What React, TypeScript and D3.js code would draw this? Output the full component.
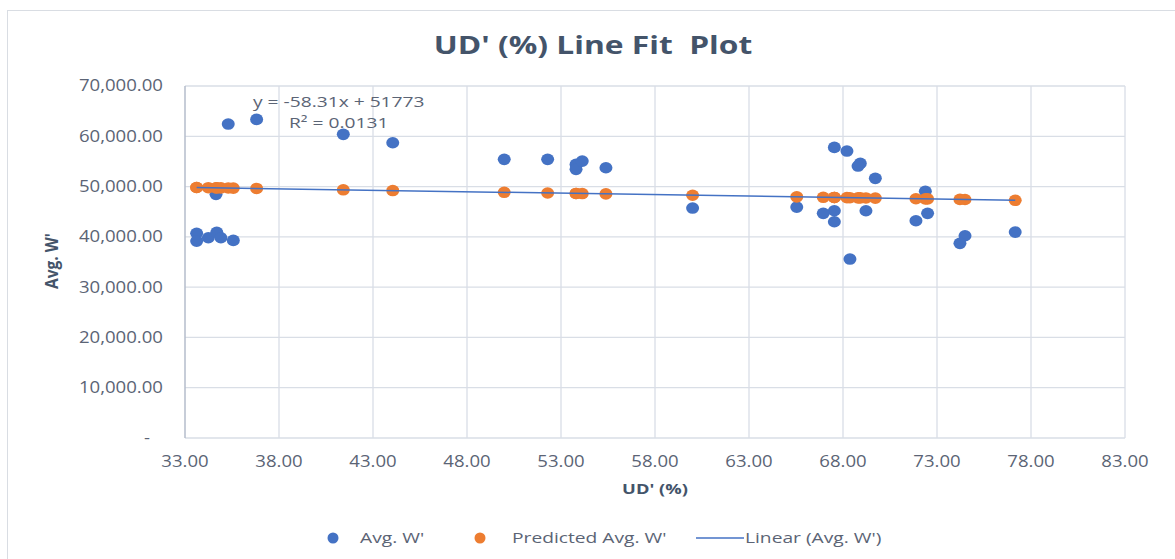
import * as d3 from "d3";

// ---------------------------------------------------------------------------
// Data
// ---------------------------------------------------------------------------

const UD = [
  33.62, 33.62, 34.24, 34.69, 34.91, 35.57, 34.65, 35.3, 36.81, 41.42, 44.05,
  49.98, 52.29, 53.8, 53.8, 54.13, 55.39, 60.0,
  67.54, 67.54, 67.54, 68.21, 68.92, 68.8, 69.72, 65.54, 66.95, 69.22, 68.37,
  72.38, 71.88, 72.5, 74.49, 74.22, 77.16,
];

const AVG_W = [
  40700, 39160, 39820, 40900, 39820, 39300, 48450, 62430, 63360, 60380, 58710,
  55410, 55410, 54410, 53420, 55070, 53740, 45730,
  57790, 45190, 43000, 57060, 54610, 54080, 51630, 45920, 44670, 45190, 35590,
  49050, 43200, 44670, 40220, 38710, 40950,
];

const PREDICTED_W = [
  49813, 49813, 49776, 49750, 49737, 49699, 49753, 49715, 49627, 49358, 49204,
  48859, 48724, 48636, 48636, 48617, 48543, 48274,
  47835, 47835, 47835, 47796, 47754, 47761, 47708, 47951, 47869, 47737, 47786,
  47553, 47582, 47546, 47430, 47445, 47274,
];

const TREND: [number, number][] = [
  [33.62, 49813],
  [77.16, 47274],
];

const X_TICKS = [33, 38, 43, 48, 53, 58, 63, 68, 73, 78, 83];
const Y_TICKS = [0, 10000, 20000, 30000, 40000, 50000, 60000, 70000];

// ---------------------------------------------------------------------------
// Style
// ---------------------------------------------------------------------------

const BLUE = "#4472c4";
const ORANGE = "#ed7d31";
const GRID = "#d9dee6";
const AXIS = "#b4bccb";
const TICK_FILL = "#5b6475";
const TITLE_FILL = "#44546a";
const FONT = "'Open Sans', 'Noto Sans', sans-serif";

const W = 1175;
const H = 559;
const PLOT = { left: 185, right: 1125, top: 86, bottom: 438 };

// the reference text is wide, so stretch glyphs horizontally
const at = (x: number, y: number, sx: number) => `translate(${x},${y}) scale(${sx},1)`;

export default function App() {
  const x = d3.scaleLinear().domain([33, 83]).range([PLOT.left, PLOT.right]);
  const y = d3.scaleLinear().domain([0, 70000]).range([PLOT.bottom, PLOT.top]);
  const fmt = d3.format(",.2f");
  const trendPath = d3
    .line<[number, number]>()
    .x((d) => x(d[0]))
    .y((d) => y(d[1]))(TREND);

  return (
    <div style={{ position: "fixed", left: 0, top: 0 }}>
      <svg width={W} height={H} style={{ display: "block", background: "#fff" }}>
        {/* chart frame */}
        <rect x={7.5} y={10.5} width={1200} height={600} fill="#fff" stroke="#d9dde3" />

        {/* title */}
        <text
          transform={at(593, 54, 1.27)}
          textAnchor="middle"
          fontFamily={FONT}
          fontWeight={700}
          fontSize={25}
          fill={TITLE_FILL}
          style={{ whiteSpace: "pre" }}
        >
          {"UD' (%) Line Fit  Plot"}
        </text>

        {/* gridlines */}
        {Y_TICKS.filter((t) => t > 0).map((t) => (
          <line key={`gy${t}`} x1={PLOT.left} x2={PLOT.right} y1={y(t)} y2={y(t)} stroke={GRID} strokeWidth={1.3} />
        ))}
        {X_TICKS.filter((t) => t > 33).map((t) => (
          <line key={`gx${t}`} x1={x(t)} x2={x(t)} y1={PLOT.top} y2={PLOT.bottom} stroke={GRID} strokeWidth={1.3} />
        ))}

        {/* axes */}
        <line x1={PLOT.left} x2={PLOT.right} y1={PLOT.bottom} y2={PLOT.bottom} stroke={GRID} strokeWidth={1.5} />
        <line x1={PLOT.left} x2={PLOT.left} y1={PLOT.top} y2={PLOT.bottom} stroke={AXIS} strokeWidth={1.5} />

        {/* y tick labels */}
        {Y_TICKS.map((t) => (
          <text
            key={`ly${t}`}
            transform={at(t === 0 ? 150 : 163, y(t), 1.2)}
            dy="0.35em"
            textAnchor="end"
            fontFamily={FONT}
            fontSize={15.5}
            fill={TICK_FILL}
          >
            {t === 0 ? "-" : fmt(t)}
          </text>
        ))}

        {/* x tick labels */}
        {X_TICKS.map((t) => (
          <text
            key={`lx${t}`}
            transform={at(x(t), 467, 1.16)}
            textAnchor="middle"
            fontFamily={FONT}
            fontSize={16}
            fill={TICK_FILL}
          >
            {fmt(t)}
          </text>
        ))}

        {/* axis titles */}
        <text
          transform={at(PLOT.left + (PLOT.right - PLOT.left) / 2, 494, 1.22)}
          textAnchor="middle"
          fontFamily={FONT}
          fontWeight={700}
          fontSize={15}
          fill={TITLE_FILL}
        >
          UD' (%)
        </text>
        <text
          transform={`translate(58,261) scale(1.2,1) rotate(-90)`}
          textAnchor="middle"
          fontFamily={FONT}
          fontWeight={700}
          fontSize={15.5}
          fill={TITLE_FILL}
        >
          Avg. W'
        </text>

        {/* actual values */}
        {UD.map((u, i) => (
          <ellipse key={`b${i}`} cx={x(u)} cy={y(AVG_W[i])} rx={6.5} ry={5.8} fill={BLUE} />
        ))}

        {/* predicted values */}
        {UD.map((u, i) => (
          <ellipse key={`o${i}`} cx={x(u)} cy={y(PREDICTED_W[i])} rx={6.5} ry={5.8} fill={ORANGE} />
        ))}

        {/* trend line */}
        <path d={trendPath ?? ""} fill="none" stroke={BLUE} strokeWidth={1.5} />

        {/* equation */}
        <text transform={at(253, 107, 1.28)} fontFamily={FONT} fontSize={15} fill={TICK_FILL}>
          y = -58.31x + 51773
        </text>
        <text transform={at(289, 128, 1.28)} fontFamily={FONT} fontSize={15} fill={TICK_FILL}>
          R² = 0.0131
        </text>

        {/* legend */}
        <g fontFamily={FONT} fontSize={15} fill={TICK_FILL}>
          <circle cx={333} cy={538} r={5.5} fill={BLUE} />
          <text transform={at(360, 538, 1.28)} dy="0.35em">Avg. W'</text>
          <circle cx={480} cy={538} r={5.5} fill={ORANGE} />
          <text transform={at(512, 538, 1.28)} dy="0.35em">Predicted Avg. W'</text>
          <line x1={696} x2={744} y1={538} y2={538} stroke={BLUE} strokeWidth={1.5} />
          <text transform={at(745, 538, 1.28)} dy="0.35em">Linear (Avg. W')</text>
        </g>
      </svg>
    </div>
  );
}
